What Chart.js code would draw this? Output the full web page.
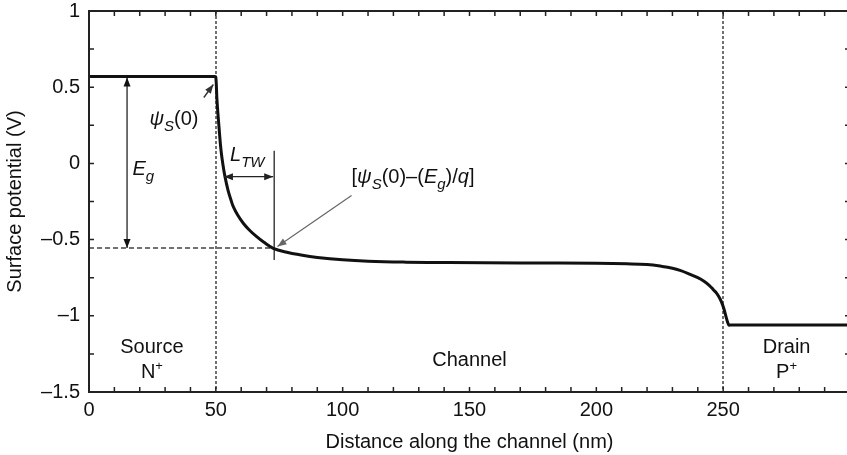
<!DOCTYPE html>
<html>
<head>
<meta charset="utf-8">
<script src="https://cdn.jsdelivr.net/npm/chart.js@4/dist/chart.umd.min.js"></script>
<style>
  html, body { margin: 0; padding: 0; background: #fff; overflow: hidden; }
  #wrap { width: 850px; height: 455px; }
</style>
</head>
<body>
<div id="wrap"><canvas id="c" width="850" height="455"></canvas></div>
<script>
// Surface potential along a TFET channel: source (N+), channel, drain (P+)
const distanceNm = [0, 49.6, 50, 50.45, 51.24, 52.03, 52.82, 53.61, 54.79, 55.97, 56.88, 58.61, 60.82, 63.19, 66.1, 68.82, 72.65, 78, 83.2, 90, 100, 110, 125, 142, 170, 200, 212, 220, 226, 230, 233, 237, 240, 242.3, 244.5, 246.2, 247.6, 248.8, 249.7, 250.4, 251.2, 252.2, 253, 270, 300];
const potentialV = [0.57, 0.57, 0.566, 0.416, 0.241, 0.088, -0.010, -0.087, -0.175, -0.240, -0.284, -0.339, -0.393, -0.437, -0.481, -0.516, -0.557, -0.583, -0.600, -0.617, -0.633, -0.642, -0.648, -0.651, -0.653, -0.656, -0.659, -0.664, -0.676, -0.688, -0.702, -0.728, -0.75, -0.772, -0.80, -0.83, -0.856, -0.89, -0.925, -0.96, -1.01, -1.06, -1.06, -1.06, -1.06];

const xTickValues = [0, 50, 100, 150, 200, 250];
const xTickLabels = ['0', '50', '100', '150', '200', '250'];
const yTickValues = [1, 0.5, 0, -0.5, -1, -1.5];
const yTickLabels = ['1', '0.5', '0', '\u20130.5', '\u20131', '\u20131.5'];

// Region boundaries and key potentials
const junctionsNm = [50, 250];
const psiS0 = 0.57;            // ψS(0)
const psiS0MinusEg = -0.555;   // ψS(0) − Eg/q
const egArrowX = 15;
const ltwEndX = 73;
const ltwArrowY = -0.087;
const ltwStartX = 53.2;

const FONT = '"Liberation Sans", Arial, Helvetica, sans-serif';
const INK = '#111';

function fontFor(p) {
  const size = p.sub ? 15 : p.sup ? 13 : 20;
  return (p.it ? 'italic ' : '') + size + 'px ' + FONT;
}
function drawRich(ctx, parts, x, y, align) {
  const widths = parts.map(p => { ctx.font = fontFor(p); return ctx.measureText(p.t).width; });
  const total = widths.reduce((a, b) => a + b, 0);
  let cx = align === 'center' ? x - total / 2 : x;
  ctx.textAlign = 'left';
  ctx.textBaseline = 'alphabetic';
  parts.forEach((p, i) => {
    ctx.font = fontFor(p);
    const dy = p.sub ? 6 : p.sup ? -8 : 0;
    ctx.fillText(p.t, cx, y + dy);
    cx += widths[i];
  });
}
function arrowHead(ctx, x0, y0, x1, y1, len, half) {
  const a = Math.atan2(y1 - y0, x1 - x0);
  ctx.beginPath();
  ctx.moveTo(x1, y1);
  ctx.lineTo(x1 - len * Math.cos(a) + half * Math.sin(a), y1 - len * Math.sin(a) - half * Math.cos(a));
  ctx.lineTo(x1 - len * Math.cos(a) - half * Math.sin(a), y1 - len * Math.sin(a) + half * Math.cos(a));
  ctx.closePath();
  ctx.fill();
}
function arrow(ctx, x0, y0, x1, y1, both, color, width) {
  ctx.save();
  ctx.strokeStyle = color; ctx.fillStyle = color; ctx.lineWidth = width;
  ctx.beginPath(); ctx.moveTo(x0, y0); ctx.lineTo(x1, y1); ctx.stroke();
  arrowHead(ctx, x0, y0, x1, y1, 9, 3.5);
  if (both) arrowHead(ctx, x1, y1, x0, y0, 9, 3.5);
  ctx.restore();
}

const guides = {
  id: 'guides',
  beforeDatasetsDraw(chart) {
    const { ctx, chartArea: a, scales: { x, y } } = chart;
    ctx.save();
    ctx.strokeStyle = '#707070';
    ctx.lineWidth = 2;
    ctx.setLineDash([3, 2]);
    junctionsNm.forEach(v => {
      const px = Math.round(x.getPixelForValue(v));
      ctx.beginPath(); ctx.moveTo(px, a.top); ctx.lineTo(px, a.bottom); ctx.stroke();
    });
    const hy = y.getPixelForValue(psiS0MinusEg);
    ctx.lineWidth = 1.8;
    ctx.setLineDash([5, 3]);
    ctx.beginPath(); ctx.moveTo(a.left, hy); ctx.lineTo(x.getPixelForValue(ltwEndX), hy); ctx.stroke();
    ctx.restore();
  },
  afterDatasetsDraw(chart) {
    const { ctx, chartArea: a, scales: { x, y } } = chart;
    const X = v => x.getPixelForValue(v), Y = v => y.getPixelForValue(v);
    ctx.save();

    // frame with inward ticks
    ctx.strokeStyle = '#222';
    ctx.lineWidth = 2;
    ctx.strokeRect(a.left, a.top, a.right - a.left, a.bottom - a.top);
    ctx.lineWidth = 1.5;
    ctx.beginPath();
    for (let v = 10; v < 300; v += 10) {
      const px = X(v);
      ctx.moveTo(px, a.bottom); ctx.lineTo(px, a.bottom - 5);
      ctx.moveTo(px, a.top); ctx.lineTo(px, a.top + 5);
    }
    for (let v = -1.25; v < 1; v += 0.25) {
      const py = Y(v);
      ctx.moveTo(a.left, py); ctx.lineTo(a.left + 5, py);
      ctx.moveTo(a.right, py); ctx.lineTo(a.right - 5, py);
    }
    ctx.stroke();

    ctx.fillStyle = INK;
    // Eg double arrow
    arrow(ctx, X(egArrowX), Y(psiS0MinusEg), X(egArrowX), Y(psiS0) + 1, true, INK, 1.2);
    drawRich(ctx, [{ t: 'E', it: 1 }, { t: 'g', it: 1, sub: 1 }], X(17.1), Y(-0.076), 'left');

    // ψS(0) pointer
    const cx = X(50), cy = Y(psiS0);
    arrow(ctx, cx - 12, cy + 21, cx - 2.5, cy + 8, false, '#333', 1.4);
    ctx.fillStyle = INK;
    drawRich(ctx, [{ t: '\u03C8', it: 1 }, { t: 'S', it: 1, sub: 1 }, { t: '(0)' }], X(33.5), Y(0.252), 'center');

    // LTW marker
    ctx.strokeStyle = INK; ctx.lineWidth = 1.2;
    ctx.beginPath(); ctx.moveTo(X(ltwEndX), Y(0.083)); ctx.lineTo(X(ltwEndX), Y(-0.634)); ctx.stroke();
    arrow(ctx, X(ltwStartX), Y(ltwArrowY), X(ltwEndX) - 1, Y(ltwArrowY), true, '#222', 1.3);
    ctx.fillStyle = INK;
    drawRich(ctx, [{ t: 'L', it: 1 }, { t: 'TW', it: 1, sub: 1 }], X(55.6), Y(0.018), 'left');

    // ψS(0) − Eg/q pointer
    arrow(ctx, X(103.5), Y(-0.21), X(74.3), Y(-0.545), false, '#666', 1.2);
    ctx.fillStyle = INK;
    drawRich(ctx, [{ t: '[' }, { t: '\u03C8', it: 1 }, { t: 'S', it: 1, sub: 1 }, { t: '(0)\u2013(' },
      { t: 'E', it: 1 }, { t: 'g', it: 1, sub: 1 }, { t: ')/' }, { t: 'q', it: 1 }, { t: ']' }], X(103.5), Y(-0.131), 'left');

    // region labels
    drawRich(ctx, [{ t: 'Source' }], X(24.8), Y(-1.244), 'center');
    drawRich(ctx, [{ t: 'N' }, { t: '+', sup: 1 }], X(24.8), Y(-1.408), 'center');
    drawRich(ctx, [{ t: 'Channel' }], X(150), Y(-1.329), 'center');
    drawRich(ctx, [{ t: 'Drain' }], X(275), Y(-1.244), 'center');
    drawRich(ctx, [{ t: 'P' }, { t: '+', sup: 1 }], X(275), Y(-1.408), 'center');
    ctx.restore();
  }
};

const tickFont = { family: FONT, size: 20, lineHeight: 1 };
const titleFont = { family: FONT, size: 20 };

new Chart(document.getElementById('c'), {
  type: 'line',
  data: {
    datasets: [{
      data: distanceNm.map((d, i) => ({ x: d, y: potentialV[i] })),
      borderColor: '#111',
      borderWidth: 3,
      borderJoinStyle: 'round',
      pointRadius: 0,
      tension: 0.4,
      fill: false
    }]
  },
  options: {
    responsive: false,
    animation: false,
    devicePixelRatio: 1,
    layout: { padding: { top: 11, right: 0, bottom: 0, left: 0 } },
    plugins: { legend: { display: false }, tooltip: { enabled: false } },
    scales: {
      x: {
        type: 'linear', min: 0, max: 300,
        grid: { display: false, drawTicks: false, tickLength: 0 },
        border: { display: false },
        afterBuildTicks: s => { s.ticks = xTickValues.map(v => ({ value: v })); },
        ticks: { padding: 8, font: tickFont, color: INK, maxRotation: 0, autoSkip: false,
          callback: (v, i) => xTickLabels[i] },
        title: { display: true, text: 'Distance along the channel (nm)', font: titleFont, color: INK,
          padding: { top: 0, bottom: 1 } },
        afterFit: s => { s.height = 63; s.paddingLeft = 0; s.paddingRight = 0; }
      },
      y: {
        type: 'linear', min: -1.5, max: 1,
        grid: { display: false, drawTicks: false, tickLength: 0 },
        border: { display: false },
        afterBuildTicks: s => { s.ticks = yTickValues.map(v => ({ value: v })); },
        ticks: { padding: 9, font: tickFont, color: INK, autoSkip: false,
          callback: (v, i) => yTickLabels[i] },
        title: { display: true, text: 'Surface potential (V)', font: titleFont, color: INK,
          padding: { top: 3, bottom: 0 } },
        afterFit: s => { s.width = 89; s.paddingTop = 0; s.paddingBottom = 0; }
      }
    }
  },
  plugins: [guides]
});
</script>
</body>
</html>
